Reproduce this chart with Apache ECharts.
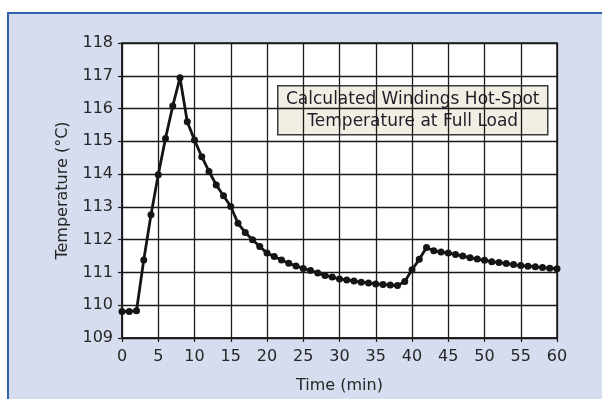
<!DOCTYPE html>
<html>
<head>
<meta charset="utf-8">
<script src="https://cdn.jsdelivr.net/npm/echarts@6/dist/echarts.min.js"></script>
<style>
  html, body { margin: 0; padding: 0; background: #ffffff; overflow: hidden; width: 602px; height: 399px; }
  #frame { position: absolute; left: 7px; top: 12px; width: 700px; height: 500px; border: 2.5px solid #2f62ab; background: #d6ddef; }
  #chart { position: absolute; left: 0; top: 0; width: 602px; height: 399px; }
</style>
</head>
<body>
<div id="frame"></div>
<div id="chart"></div>
<script>
// Time in minutes
const minutes = [0,1,2,3,4,5,6,7,8,9,10,11,12,13,14,15,16,17,18,19,20,21,22,23,24,25,26,27,28,29,30,31,32,33,34,35,36,37,38,39,40,41,42,43,44,45,46,47,48,49,50,51,52,53,54,55,56,57,58,59,60];
// Calculated windings hot-spot temperature (°C)
const hotSpotTemp = [
  109.81,109.81,109.83,111.38,112.76,113.98,115.09,116.08,116.94,115.60,
  115.04,114.53,114.08,113.67,113.34,113.01,112.50,112.22,112.00,111.79,
  111.59,111.49,111.38,111.28,111.20,111.12,111.06,110.98,110.91,110.86,
  110.80,110.77,110.74,110.70,110.68,110.65,110.63,110.62,110.60,110.72,
  111.08,111.40,111.76,111.66,111.62,111.59,111.55,111.50,111.45,111.41,
  111.37,111.33,111.30,111.27,111.24,111.21,111.19,111.17,111.15,111.13,111.11
];
const xTitle = 'Time (min)';
const yTitle = 'Temperature (°C)';
const noteLines = ['Calculated Windings Hot-Spot', 'Temperature at Full Load'];

const FONT = '"DejaVu Sans", sans-serif';
const TXT = '#262626';

const chart = echarts.init(document.getElementById('chart'), null, { renderer: 'canvas' });
chart.setOption({
  animation: false,
  backgroundColor: 'transparent',
  grid: {
    left: 122, right: 45, top: 43, bottom: 61,
    show: true, backgroundColor: '#ffffff', borderColor: '#1a1a1a', borderWidth: 1.5
  },
  xAxis: {
    type: 'value', min: 0, max: 60, interval: 5,
    name: xTitle, nameLocation: 'middle', nameGap: 40,
    nameTextStyle: { fontFamily: FONT, fontSize: 16, color: TXT },
    axisLine: { show: true, lineStyle: { color: '#1a1a1a', width: 1.5 } },
    axisTick: { show: true, length: 4, lineStyle: { color: '#1a1a1a', width: 1.2 } },
    axisLabel: { fontFamily: FONT, fontSize: 16, color: TXT, margin: 11 },
    splitLine: { show: true, lineStyle: { color: '#1a1a1a', width: 1.3 } }
  },
  yAxis: {
    type: 'value', min: 109, max: 118, interval: 1,
    name: yTitle, nameLocation: 'middle', nameGap: 51, nameRotate: 90,
    nameTextStyle: { fontFamily: FONT, fontSize: 16, color: TXT },
    axisLine: { show: true, lineStyle: { color: '#1a1a1a', width: 1.5 } },
    axisTick: { show: true, length: 4, lineStyle: { color: '#1a1a1a', width: 1.2 } },
    axisLabel: { fontFamily: FONT, fontSize: 16, color: TXT, margin: 9 },
    splitLine: { show: true, lineStyle: { color: '#1a1a1a', width: 1.3 } }
  },
  series: [{
    type: 'line',
    data: minutes.map((m, i) => [m, hotSpotTemp[i]]),
    lineStyle: { color: '#151515', width: 2.8 },
    itemStyle: { color: '#151515' },
    symbol: 'circle', symbolSize: 7,
    z: 5
  }],
  graphic: [{
    type: 'group', left: 277, top: 85, z: 10,
    children: [
      { type: 'rect', shape: { x: 0, y: 0, width: 270, height: 49 },
        style: { fill: '#f2eee4', stroke: '#3a3a3a', lineWidth: 1.5 } },
      { type: 'text', x: 135, y: 25,
        style: { text: noteLines.join('\n'), font: '17px ' + FONT, fill: '#1e1e28',
                 align: 'center', verticalAlign: 'middle', lineHeight: 22 } }
    ]
  }]
});
</script>
</body>
</html>
